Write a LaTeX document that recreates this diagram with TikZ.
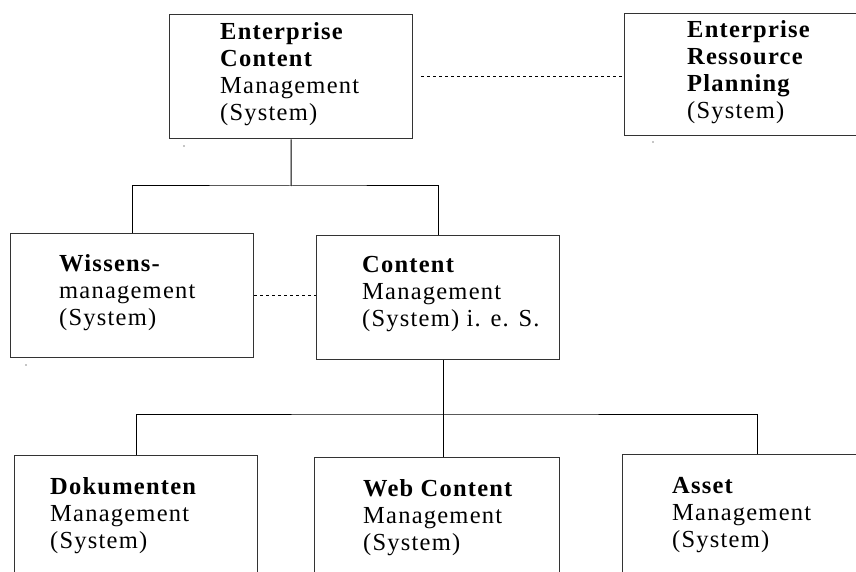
\documentclass[tikz,border=0pt]{standalone}
\usepackage{fontspec}
\setmainfont{Liberation Serif}[LetterSpace=5]
\usetikzlibrary{calc}

\tikzset{
  sysbox/.style={draw=black!80, line width=1.3pt, rectangle, inner sep=0pt,
    anchor=north west, minimum height=124pt, minimum width=243pt},
  boxtext/.style={anchor=base west, inner sep=0pt, font=\fontsize{24.5}{27}\selectfont},
  link/.style={draw=black, line width=1pt},
  dotlink/.style={draw=black, line width=0.9pt, dash pattern=on 2.5pt off 3.5pt},
  speck/.style={fill=black!45, draw=none}
}

\newcommand{\boxlines}[1]{\begin{tabular}[t]{@{}l@{}}#1\end{tabular}}

\begin{document}
\begin{tikzpicture}[x=1pt,y=-1pt]
  \useasboundingbox (0,0) rectangle (856,572);
  \clip (0,0) rectangle (856,572);

  % top level
  \node[sysbox] (ecm) at (169,14) {};
  \node[sysbox, minimum height=122pt, minimum width=270pt] (erp) at (624,13) {};
  % middle level
  \node[sysbox] (wis) at (10,233) {};
  \node[sysbox] (cms) at (316,235) {};
  % bottom level (cut by the page edge)
  \node[sysbox, minimum height=160pt] (dok) at (14,455) {};
  \node[sysbox, minimum height=160pt, minimum width=245pt] (web) at (314,457) {};
  \node[sysbox, minimum height=160pt, minimum width=270pt] (ast) at (622,454) {};

  % labels
  \node[boxtext] (ecm-t) at (220,40) {\boxlines{\textbf{Enterprise}\\\textbf{Content}\\Management\\(System)}};
  \node[boxtext] (erp-t) at (687,38) {\boxlines{\textbf{Enterprise}\\\textbf{Ressource}\\\textbf{Planning}\\(System)}};
  \node[boxtext] (wis-t) at (59,271) {\boxlines{\textbf{Wissens-}\\management\\(System)}};
  \node[boxtext] (cms-t) at (362,272) {\boxlines{\textbf{Content}\\Management\\(System) i. e. S.}};
  \node[boxtext] (dok-t) at (50,494) {\boxlines{\textbf{Dokumenten}\\Management\\(System)}};
  \node[boxtext] (web-t) at (363,496) {\boxlines{\textbf{Web Content}\\Management\\(System)}};
  \node[boxtext] (ast-t) at (672,493) {\boxlines{\textbf{Asset}\\Management\\(System)}};

  % tree connectors
  \coordinate (j1) at (291,186);
  \draw[link] (ecm.south) -- (j1);
  \draw[link] (wis.north) |- (j1) -| (cms.north);

  \coordinate (j2) at (443,414);
  \draw[link] (cms.south -| j2) -- (j2);
  \draw[link] (dok.north) |- (j2) -| (ast.north);
  \draw[link] (j2) -- (web.north -| j2);

  % dotted associations
  \draw[dotlink] ($(ecm.east)+(8,0)$) -- (erp.west |- ecm.east);
  \draw[dotlink] (wis.east) -- (cms.west |- wis.east);

  % stray specks
  \fill[speck] (184,146) circle (0.8);
  \fill[speck] (653,142) circle (0.8);
  \fill[speck] (26,365) circle (0.8);
\end{tikzpicture}
\end{document}
